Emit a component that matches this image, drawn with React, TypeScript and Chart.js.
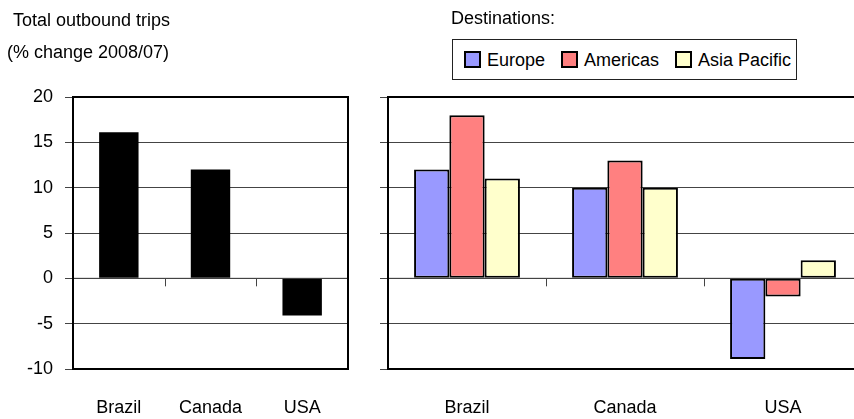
import React, { useEffect, useRef } from "react";
import { Chart, registerables } from "chart.js";

Chart.register(...registerables);
Chart.defaults.font.family = "'Liberation Sans', Arial, sans-serif";
Chart.defaults.font.size = 18;
Chart.defaults.color = "#000";

// ---- data ----
const countries = ["Brazil", "Canada", "USA"];
const totalTrips = [16.1, 12, -4.1];
const destinations = ["Europe", "Americas", "Asia Pacific"];
const europe = [12, 10, -8.9];
const americas = [18, 13, -2];
const asiaPacific = [11, 10, 2];
const destColors = ["#9999FF", "#FF8080", "#FFFFCC"];
const yMin = -10;
const yMax = 20;
const yStep = 5;

const FONT = "'Liberation Sans', Arial, sans-serif";
const GRID = "#444";

const framePlugin = {
  id: "frame",
  afterDatasetsDraw(chart: any) {
    const { ctx, chartArea: a, scales } = chart;
    const y0 = scales.y.getPixelForValue(0);
    const x = scales.x;
    ctx.save();
    ctx.strokeStyle = GRID;
    ctx.lineWidth = 1;
    ctx.beginPath();
    ctx.moveTo(a.left, y0);
    ctx.lineTo(a.right, y0);
    for (let i = 1; i < x.ticks.length; i++) {
      const px = Math.round((x.getPixelForTick(i - 1) + x.getPixelForTick(i)) / 2) + 0.5;
      ctx.moveTo(px, y0);
      ctx.lineTo(px, y0 + 8);
    }
    ctx.stroke();
    ctx.strokeStyle = "#000";
    ctx.lineWidth = 2;
    ctx.strokeRect(a.left, a.top, a.right - a.left, a.bottom - a.top);
    ctx.restore();
  },
};

function yScale(showLabels: boolean, width: number) {
  return {
    min: yMin,
    max: yMax,
    ticks: { stepSize: yStep, display: showLabels, padding: 12, font: { size: 18 }, color: "#000" },
    grid: { color: GRID, lineWidth: 1, tickLength: 8, drawTicks: true },
    border: { display: false },
    afterFit: (s: any) => {
      s.width = width;
    },
  };
}

const xScale = {
  ticks: { padding: 20, font: { size: 18 }, color: "#000", maxRotation: 0 },
  grid: { display: false },
  border: { display: false },
  afterFit: (s: any) => {
    s.height = 50;
  },
};

function LeftChart() {
  const ref = useRef<HTMLCanvasElement>(null);
  useEffect(() => {
    const chart = new Chart(ref.current!, {
      type: "bar",
      data: {
        labels: countries,
        datasets: [
          {
            label: "Total outbound trips",
            data: totalTrips,
            backgroundColor: "#000",
            borderWidth: 0,
            categoryPercentage: 1,
            barPercentage: 0.43,
          },
        ],
      },
      options: {
        responsive: false,
        animation: false,
        devicePixelRatio: 1,
        layout: { padding: { top: 97, right: 12, left: 0, bottom: 0 } },
        plugins: { legend: { display: false }, tooltip: { enabled: false } },
        scales: { x: xScale as any, y: yScale(true, 73) as any },
      },
      plugins: [framePlugin],
    });
    return () => chart.destroy();
  }, []);
  return <canvas ref={ref} width={360} height={419} style={{ position: "absolute", left: 0, top: 0 }} />;
}

function RightChart() {
  const ref = useRef<HTMLCanvasElement>(null);
  useEffect(() => {
    const series = [europe, americas, asiaPacific];
    const chart = new Chart(ref.current!, {
      type: "bar",
      data: {
        labels: countries,
        datasets: destinations.map((d, i) => ({
          label: d,
          data: series[i],
          backgroundColor: destColors[i],
          borderColor: "#000",
          borderWidth: 2,
          borderSkipped: false,
          categoryPercentage: 0.67,
          barPercentage: 1,
        })),
      },
      options: {
        responsive: false,
        animation: false,
        devicePixelRatio: 1,
        layout: { padding: { top: 97, right: 18, left: 0, bottom: 0 } },
        plugins: { legend: { display: false }, tooltip: { enabled: false } },
        scales: { x: xScale as any, y: yScale(false, 28) as any },
      },
      plugins: [framePlugin],
    });
    return () => chart.destroy();
  }, []);
  return <canvas ref={ref} width={520} height={419} style={{ position: "absolute", left: 360, top: 0 }} />;
}

const textStyle: React.CSSProperties = {
  position: "absolute",
  fontFamily: FONT,
  fontSize: 18,
  lineHeight: "18px",
  whiteSpace: "nowrap",
  color: "#000",
};

export default function App() {
  return (
    <div
      style={{
        position: "fixed",
        left: 0,
        top: 0,
        width: 854,
        height: 419,
        overflow: "hidden",
        background: "#fff",
      }}
    >
      <LeftChart />
      <RightChart />
      <div style={{ ...textStyle, left: 13, top: 11 }}>Total outbound trips</div>
      <div style={{ ...textStyle, left: 7, top: 43 }}>(% change 2008/07)</div>
      <div style={{ ...textStyle, left: 451, top: 9 }}>Destinations:</div>
      <div
        style={{
          position: "absolute",
          left: 452,
          top: 39,
          width: 345,
          height: 41,
          border: "1px solid #222",
          boxSizing: "border-box",
          background: "#fff",
          display: "flex",
          alignItems: "center",
          paddingLeft: 11,
          gap: 16,
        }}
      >
        {destinations.map((d, i) => (
          <div key={d} style={{ display: "flex", alignItems: "center" }}>
            <div
              style={{
                width: 17,
                height: 17,
                boxSizing: "border-box",
                border: "2px solid #000",
                background: destColors[i],
                marginRight: 6,
              }}
            />
            <span style={{ fontFamily: FONT, fontSize: 18, lineHeight: "18px" }}>{d}</span>
          </div>
        ))}
      </div>
    </div>
  );
}
